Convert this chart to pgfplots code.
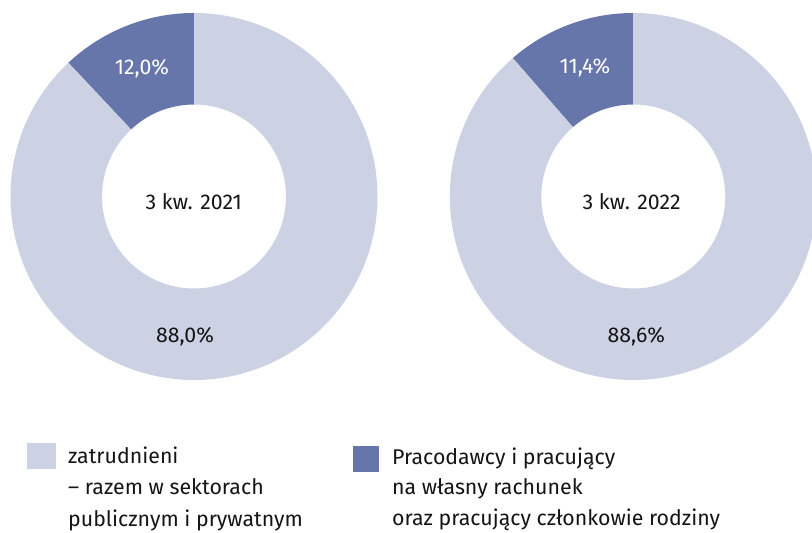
\documentclass[border=0pt]{standalone}
\usepackage{pgfplots}
\pgfplotsset{compat=1.18}
\usepackage{pgfplotstable}
\usepackage{fontspec}
\setmainfont{Fira Sans}
\definecolor{lightc}{RGB}{204,209,228}
\definecolor{darkc}{RGB}{102,118,171}
\definecolor{txt}{RGB}{20,20,20}

\pgfplotstableread{
cat share
zatrudnieni 88.0
pracodawcy 12.0
}\dataA
\pgfplotstableread{
cat share
zatrudnieni 88.6
pracodawcy 11.4
}\dataB
\pgfplotstablegetelem{1}{share}\of\dataA
\pgfmathsetmacro\aA{90+3.6*\pgfplotsretval}
\pgfplotstablegetelem{1}{share}\of\dataB
\pgfmathsetmacro\aB{90+3.6*\pgfplotsretval}
\def\Ro{183.5bp}
\def\Ri{92bp}

\begin{document}%
\begin{tikzpicture}
\useasboundingbox (0,0) rectangle (812bp,533bp);
\clip (0,0) rectangle (812bp,533bp);
\begin{axis}[
  at={(0,0)}, anchor=south west,
  width=812bp, height=533bp, scale only axis,
  xmin=0, xmax=812, ymin=0, ymax=533,
  hide axis, clip=false,
  font=\fontsize{21.4}{26}\selectfont,
]
% donut 1
\begin{scope}[shift={(axis cs:194,336.5)}]
\fill[darkc] (90:\Ro) arc[start angle=90,end angle=\aA,radius=\Ro] -- (\aA:\Ri) arc[start angle=\aA,end angle=90,radius=\Ri] -- cycle;
\fill[lightc] (\aA:\Ro) arc[start angle=\aA,end angle=450,radius=\Ro] -- (90:\Ri) arc[start angle=450,end angle=\aA,radius=\Ri] -- cycle;
\end{scope}
% donut 2
\begin{scope}[shift={(axis cs:633.3,336.5)}]
\fill[darkc] (90:\Ro) arc[start angle=90,end angle=\aB,radius=\Ro] -- (\aB:\Ri) arc[start angle=\aB,end angle=90,radius=\Ri] -- cycle;
\fill[lightc] (\aB:\Ro) arc[start angle=\aB,end angle=450,radius=\Ro] -- (90:\Ri) arc[start angle=450,end angle=\aB,radius=\Ri] -- cycle;
\end{scope}
% labels
\node[anchor=base, text=white] at (axis cs:142,458) {12,0\%};
\node[anchor=base, text=txt] at (axis cs:193.7,323.7) {3 kw. 2021};
\node[anchor=base, text=txt] at (axis cs:185,190.3) {88,0\%};
\node[anchor=base, text=white] at (axis cs:585,459) {11,4\%};
\node[anchor=base, text=txt] at (axis cs:631.7,323.7) {3 kw. 2022};
\node[anchor=base, text=txt] at (axis cs:636.3,190.3) {88,6\%};
% legend
\fill[lightc] (axis cs:26.7,64) rectangle (axis cs:55.7,90);
\fill[darkc] (axis cs:352.7,61.3) rectangle (axis cs:379,87.3);
\node[anchor=base west, inner sep=0pt, text=txt] at (axis cs:68,69) {zatrudnieni};
\node[anchor=base west, inner sep=0pt, text=txt] at (axis cs:68,38) {– razem w sektorach};
\node[anchor=base west, inner sep=0pt, text=txt] at (axis cs:68,7) {publicznym i prywatnym};
\node[anchor=base west, inner sep=0pt, text=txt] at (axis cs:392,68) {Pracodawcy i pracujący};
\node[anchor=base west, inner sep=0pt, text=txt] at (axis cs:392,38) {na własny rachunek};
\node[anchor=base west, inner sep=0pt, text=txt] at (axis cs:392,8) {oraz pracujący członkowie rodziny};
\end{axis}
\end{tikzpicture}%
\end{document}
